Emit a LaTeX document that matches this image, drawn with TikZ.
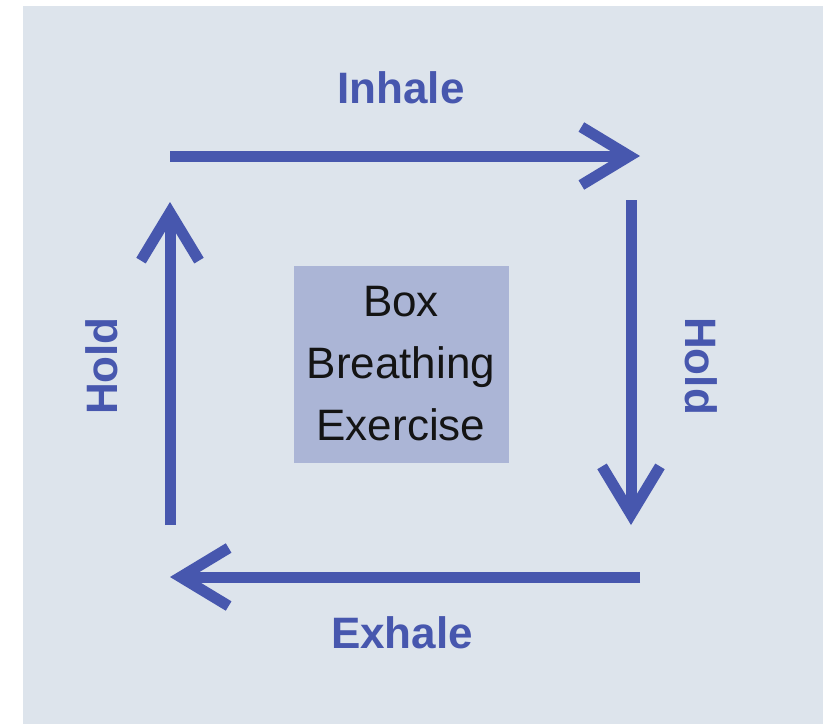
\documentclass[tikz,border=0pt]{standalone}
\usepackage{fontspec}
\setmainfont{Liberation Sans}
\usetikzlibrary{arrows.meta}
\definecolor{fond}{HTML}{DDE4EC}
\definecolor{bleu}{HTML}{4757AE}
\definecolor{boite}{HTML}{ABB5D6}
\tikzset{
  fleche/.style={draw=bleu,line width=11pt,-{Straight Barb[length=48pt,width=58pt]}},
  etiq/.style={text=bleu,font=\fontsize{44}{50}\selectfont\bfseries,inner sep=0pt}
}

\begin{document}
\begin{tikzpicture}[x=1pt,y=-1pt]
    %carre de respiration
\useasboundingbox (0,0) rectangle (823,724);
\fill[fond] (23,6) rectangle (823,724);

\node[fill=boite,minimum width=215pt,minimum height=197pt,align=center,
  font=\fontsize{44}{62}\selectfont,text=black!92] (Boite) at (401,364)
  {Box\\Breathing\\Exercise};

\coordinate (hautG) at (170,156);  \coordinate (hautD) at (640,156);
\coordinate (droitH) at (631,200); \coordinate (droitB) at (631,525);
\coordinate (basD) at (640,577);   \coordinate (basG) at (170,577);
\coordinate (gaucheB) at (170,525); \coordinate (gaucheH) at (170,202);

\draw[fleche] (hautG) -- (hautD);
\draw[fleche] (droitH) -- (droitB);
\draw[fleche] (basD) -- (basG);
\draw[fleche] (gaucheB) -- (gaucheH);

\node[etiq] (Insp) at (401,88) {Inhale};
\node[etiq] (Exp) at (402,633) {Exhale};
\node[etiq,rotate=90] (PauseG) at (102,366) {Hold};
\node[etiq,rotate=-90] (PauseD) at (701,366) {Hold};
\end{tikzpicture}
\end{document}
